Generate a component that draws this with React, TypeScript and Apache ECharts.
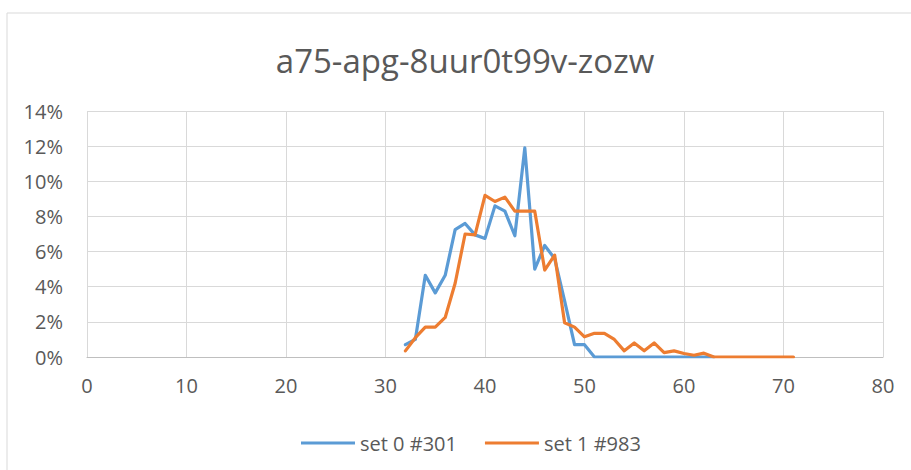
import React, { useEffect, useRef } from "react";
import * as echarts from "echarts";

const titleText = "a75-apg-8uur0t99v-zozw";
const seriesNames = ["set 0 #301", "set 1 #983"];
const xTicks = [0, 10, 20, 30, 40, 50, 60, 70, 80];
const yTicks = [0, 0.02, 0.04, 0.06, 0.08, 0.1, 0.12, 0.14];

const set0X = [32, 33, 34, 35, 36, 37, 38, 39, 40, 41, 42, 43, 44, 45, 46, 47, 48, 49, 50, 51, 52, 53, 54, 55, 56, 57, 58, 59, 60, 61, 62, 63];
const set0Y = [0.7, 1.0, 4.65, 3.65, 4.65, 7.25, 7.6, 6.95, 6.75, 8.6, 8.3, 6.9, 11.9, 5.0, 6.35, 5.6, 3.2, 0.7, 0.7, 0, 0, 0, 0, 0, 0, 0, 0, 0, 0, 0, 0, 0];

const set1X = [32, 33, 34, 35, 36, 37, 38, 39, 40, 41, 42, 43, 44, 45, 46, 47, 48, 49, 50, 51, 52, 53, 54, 55, 56, 57, 58, 59, 60, 61, 62, 63, 64, 65, 66, 67, 68, 69, 70, 71];
const set1Y = [0.35, 1.1, 1.7, 1.7, 2.25, 4.2, 7.0, 6.95, 9.2, 8.85, 9.1, 8.3, 8.3, 8.3, 4.95, 5.8, 1.95, 1.7, 1.15, 1.35, 1.35, 1.0, 0.35, 0.8, 0.35, 0.8, 0.25, 0.35, 0.2, 0.1, 0.22, 0, 0, 0, 0, 0, 0, 0, 0, 0];

const FONT = "'Open Sans', sans-serif";
const TXT = "#595959";
const GRID = "#d9d9d9";

export default function App() {
  const ref = useRef<HTMLDivElement>(null);
  useEffect(() => {
    if (!ref.current) return;
    const chart = echarts.init(ref.current, null, { renderer: "svg" });
    const toPairs = (xs: number[], ys: number[]) => xs.map((x, i) => [x, ys[i] / 100]);
    chart.setOption({
      animation: false,
      backgroundColor: "#ffffff",
      graphic: [
        {
          type: "rect",
          shape: { x: 7, y: 13, width: 940, height: 480 },
          style: { fill: "none", stroke: GRID, lineWidth: 1 },
          silent: true,
        },
        {
          type: "text",
          x: 465,
          y: 60,
          style: {
            text: titleText,
            fill: TXT,
            font: `33px ${FONT}`,
            textAlign: "center",
            textVerticalAlign: "middle",
          },
        },
      ],
      legend: {
        left: 296,
        top: 428,
        icon: "rect",
        itemWidth: 54,
        itemHeight: 3,
        itemGap: 28,
        textStyle: { color: TXT, fontSize: 20, fontFamily: FONT },
        data: seriesNames,
      },
      grid: { left: 87, right: 28, top: 111, bottom: 113, containLabel: false },
      xAxis: {
        type: "value",
        min: xTicks[0],
        max: xTicks[xTicks.length - 1],
        interval: 10,
        axisLine: { show: true, lineStyle: { color: "#bfbfbf", width: 1 } },
        axisTick: { show: false },
        splitLine: { show: true, lineStyle: { color: GRID, width: 1 } },
        axisLabel: { color: TXT, fontSize: 20, fontFamily: FONT, margin: 18 },
      },
      yAxis: {
        type: "value",
        min: yTicks[0],
        max: yTicks[yTicks.length - 1],
        interval: 0.02,
        axisLine: { show: false },
        axisTick: { show: false },
        splitLine: { show: true, lineStyle: { color: GRID, width: 1 } },
        axisLabel: {
          color: TXT,
          fontSize: 20,
          fontFamily: FONT,
          margin: 24,
          formatter: (v: number) => `${Math.round(v * 100)}%`,
        },
      },
      series: [
        {
          name: seriesNames[0],
          type: "line",
          data: toPairs(set0X, set0Y),
          symbol: "none",
          lineStyle: { color: "#5B9BD5", width: 3.2, join: "round", cap: "round" },
          itemStyle: { color: "#5B9BD5" },
        },
        {
          name: seriesNames[1],
          type: "line",
          data: toPairs(set1X, set1Y),
          symbol: "none",
          lineStyle: { color: "#ED7D31", width: 3.2, join: "round", cap: "round" },
          itemStyle: { color: "#ED7D31" },
        },
      ],
    });
    return () => chart.dispose();
  }, []);
  return (
    <div
      ref={ref}
      style={{ position: "fixed", left: 0, top: 0, width: 911, height: 470 }}
    />
  );
}
